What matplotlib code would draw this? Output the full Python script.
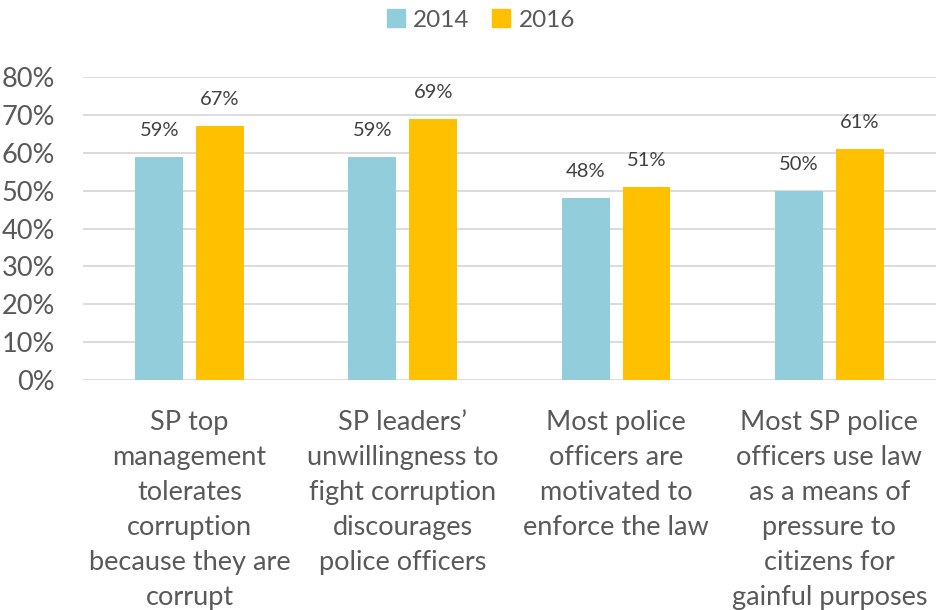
import numpy as np
import matplotlib.pyplot as plt
import matplotlib.transforms as mtransforms
from matplotlib.patches import Patch

plt.rcParams['font.family'] = ['Lato', 'DejaVu Sans']

categories = [
    "SP top\nmanagement\ntolerates\ncorruption\nbecause they are\ncorrupt",
    "SP leaders\u2019\nunwillingness to\nfight corruption\ndiscourages\npolice officers",
    "Most police\nofficers are\nmotivated to\nenforce the law",
    "Most SP police\nofficers use law\nas a means of\npressure to\ncitizens for\ngainful purposes",
]
years = ["2014", "2016"]
vals_2014 = [59, 59, 48, 50]
vals_2016 = [67, 69, 51, 61]
yticks = [0, 10, 20, 30, 40, 50, 60, 70, 80]

c14 = '#92CDDC'
c16 = '#FFC000'
txt = '#595959'

fig = plt.figure(figsize=(9.37, 6.10), dpi=100)
ax = fig.add_axes([0.0886, 0.377, 0.9103, 0.4967])

x = np.arange(len(categories))
w = 0.225
off = 0.1425
b1 = ax.bar(x - off, vals_2014, w, color=c14, zorder=3)
b2 = ax.bar(x + off, vals_2016, w, color=c16, zorder=3)

for bars, vals in [(b1, vals_2014), (b2, vals_2016)]:
    for r, v in zip(bars, vals):
        ax.annotate(f"{v}%", (r.get_x() + r.get_width() / 2, v),
                    xytext=(0, 13), textcoords='offset points',
                    ha='center', va='bottom', fontsize=14.5, color='#404040')

ax.set_xlim(-0.5, len(categories) - 0.5)
ax.set_ylim(0, 80)
ax.set_yticks(yticks)
ax.set_yticklabels([f"{t}%" for t in yticks], fontsize=19.5, color=txt)
ax.tick_params(axis='y', length=0, pad=20)
ax.set_xticks([])
ax.yaxis.grid(True, color='#D9D9D9', linewidth=1.3, zorder=0)
for s in ax.spines.values():
    s.set_visible(False)

# wrapped category names under each pair of bars
trans = mtransforms.blended_transform_factory(ax.transData, ax.transAxes)
for xi, lab in zip(x, categories):
    ax.text(xi, -0.098, lab, transform=trans, ha='center', va='top',
            fontsize=19.5, color=txt, linespacing=1.5)

handles = [Patch(color=c14, label=years[0]), Patch(color=c16, label=years[1])]
fig.legend(handles=handles, loc='center', bbox_to_anchor=(0.513, 0.967), ncol=2,
           frameon=False, fontsize=17.5, labelcolor=txt, handlelength=0.75,
           handleheight=0.75, handletextpad=0.35, columnspacing=0.9)

fig.savefig('out.png', dpi=100)
